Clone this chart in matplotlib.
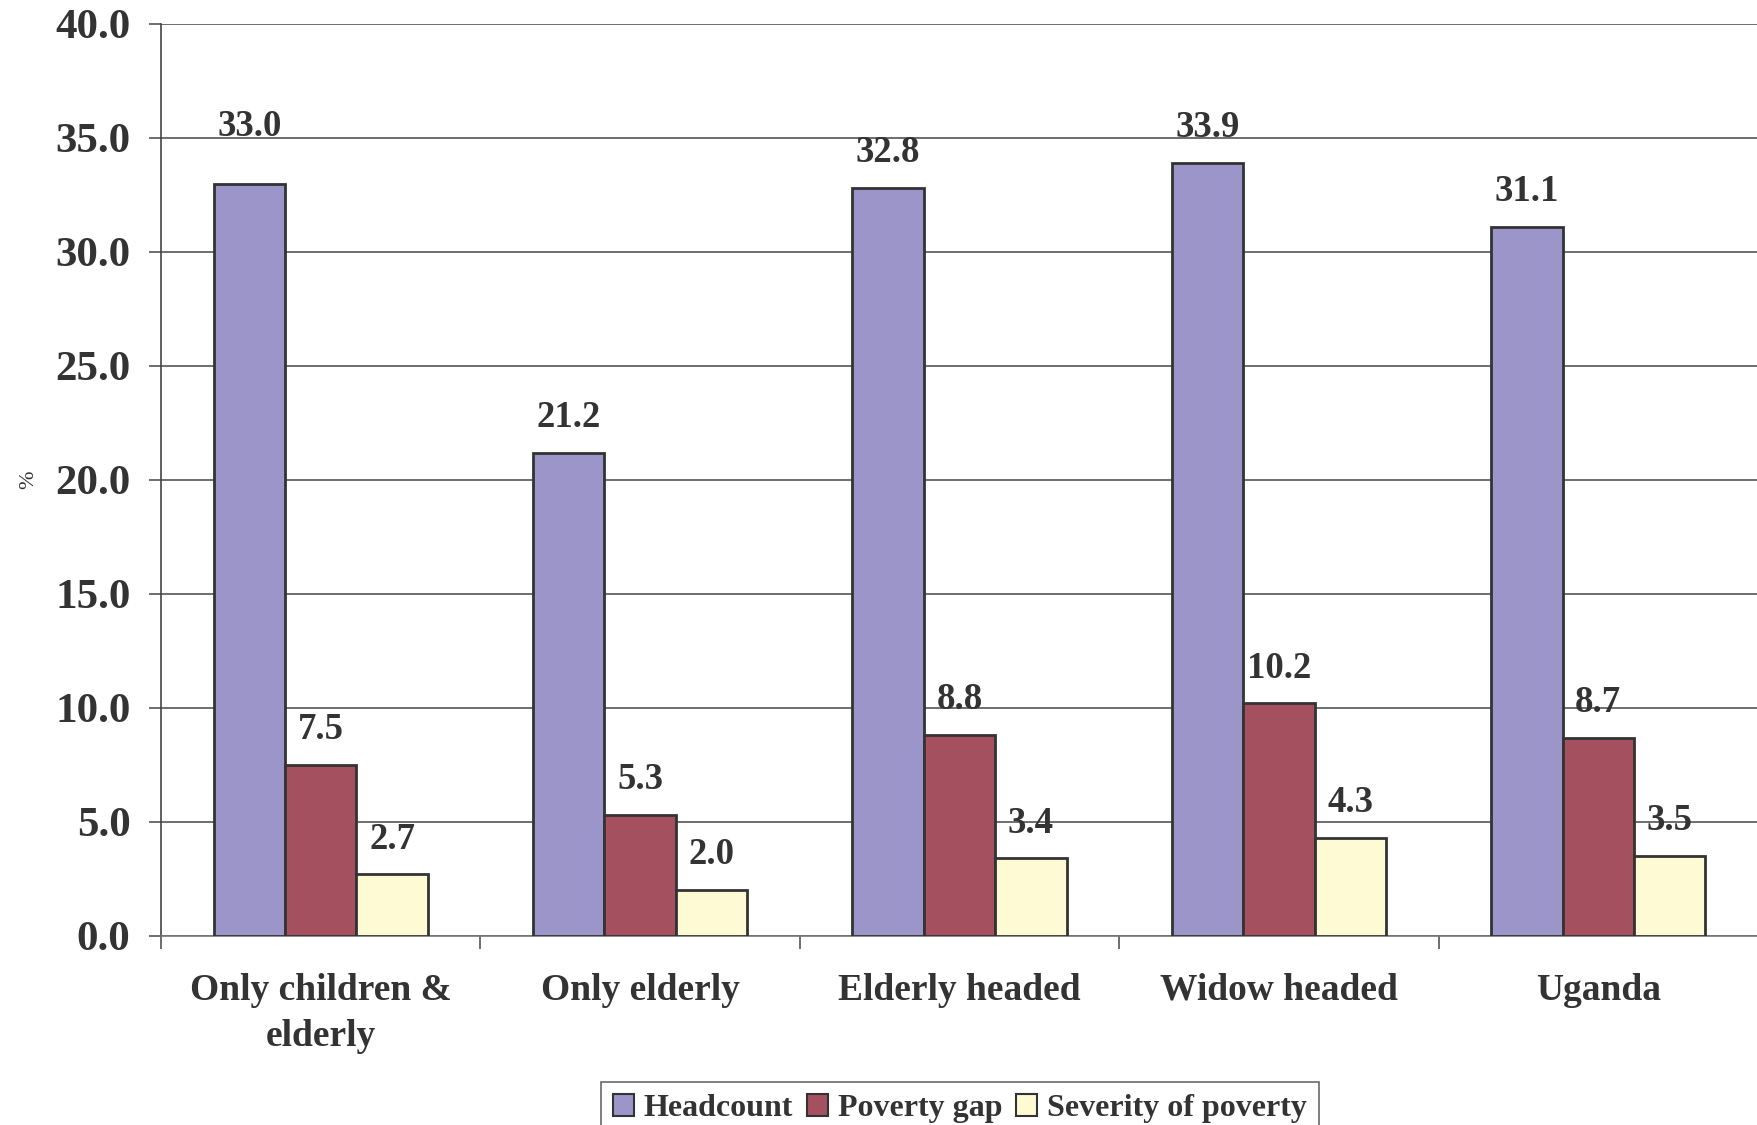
import matplotlib
matplotlib.use("Agg")
import matplotlib.pyplot as plt
import numpy as np

# Poverty indicators by household type (%)
categories = ["Only children &\nelderly", "Only elderly", "Elderly headed",
              "Widow headed", "Uganda"]
headcount = [33.0, 21.2, 32.8, 33.9, 31.1]
poverty_gap = [7.5, 5.3, 8.8, 10.2, 8.7]
severity = [2.7, 2.0, 3.4, 4.3, 3.5]
series_names = ["Headcount", "Poverty gap", "Severity of poverty"]
y_ticks = [0, 5, 10, 15, 20, 25, 30, 35, 40]

colors = ["#9B95C9", "#A4505F", "#FEFAD4"]
text_color = "#333333"

plt.rcParams["font.family"] = ["Liberation Serif", "DejaVu Serif"]

W, H = 1758, 1125
fig = plt.figure(figsize=(W / 100, H / 100), dpi=100)
ax = fig.add_axes([161 / W, 1 - 936 / H, 1 - 161 / W, (936 - 24) / H])

n = len(categories)
centers = np.arange(n) + 0.5
width = 0.2235
all_series = [headcount, poverty_gap, severity]

for k, (vals, col, name) in enumerate(zip(all_series, colors, series_names)):
    xs = centers + (k - 1) * width
    ax.bar(xs, vals, width=width, color=col, edgecolor="#333333",
           linewidth=2, label=name, zorder=3)
    for i, (x, v) in enumerate(zip(xs, vals)):
        # the first headcount label sits a little higher, clear of the bar top
        dy = 25.5 if not (k == 0 and i == 0) else 41
        ax.annotate(f"{v:.1f}", (x, v), xytext=(0, dy), textcoords="offset points",
                    ha="center", va="center", fontsize=26.5, fontweight="bold",
                    color=text_color, zorder=4)

ax.set_xlim(0, n)
ax.set_ylim(0, 40)
ax.set_yticks(y_ticks)
ax.set_yticklabels([f"{t:.1f}" for t in y_ticks], fontsize=31,
                   fontweight="bold", color=text_color)
ax.yaxis.grid(True, color="#555555", linewidth=1.2, zorder=0)
ax.tick_params(axis="y", length=9, width=1.2, color="#555555", pad=13)

ax.set_xticks(centers)
ax.set_xticklabels(categories, fontsize=27, fontweight="bold", color=text_color,
                   linespacing=1.4)
ax.set_xticks(np.arange(n + 1), minor=True)
ax.tick_params(axis="x", which="major", length=0, pad=26.5)
ax.tick_params(axis="x", which="minor", length=9, width=1.2, color="#555555")

ax.spines["top"].set_visible(False)
ax.spines["right"].set_visible(False)
ax.spines["left"].set_color("#444444")
ax.spines["left"].set_linewidth(1.2)
ax.spines["bottom"].set_color("#777777")
ax.spines["bottom"].set_linewidth(1.2)

ax.set_ylabel("%", fontsize=16, color=text_color)
ax.yaxis.set_label_coords((38 - 161) / (W - 161), 0.5)

leg = fig.legend(loc="upper center", bbox_to_anchor=(0.546, 1 - 1082 / H),
                 ncol=3, frameon=True, fancybox=False,
                 prop={"weight": "bold", "size": 23},
                 handlelength=0.65, handleheight=0.65, handletextpad=0.3,
                 columnspacing=0.45, borderpad=0.38, borderaxespad=0)
leg.get_frame().set_edgecolor("#444444")
leg.get_frame().set_linewidth(1.2)
for t in leg.get_texts():
    t.set_color(text_color)
for h in leg.legend_handles:
    h.set_linewidth(1.5)

fig.savefig("out.png", dpi=100)
